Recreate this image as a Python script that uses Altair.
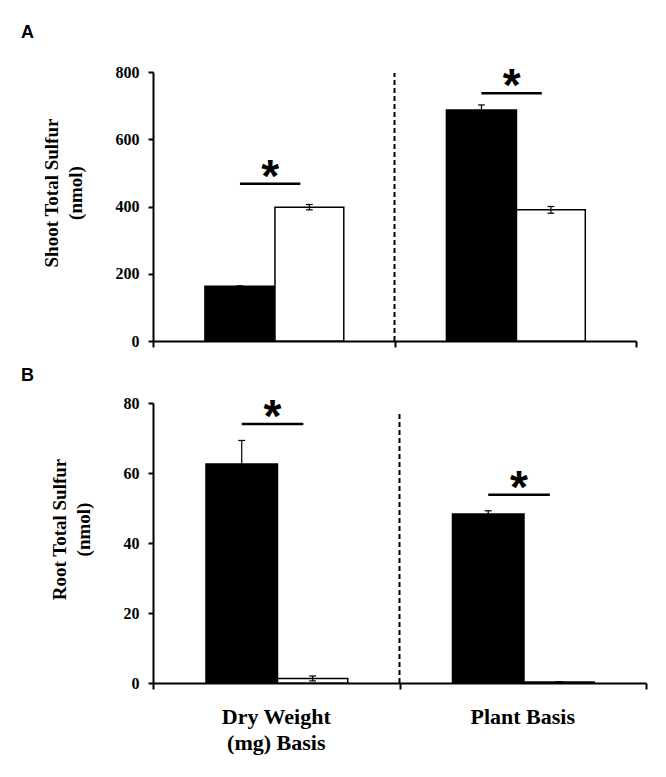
import altair as alt
import pandas as pd

# ---- data ----
bases = ["Dry Weight\n(mg) Basis", "Plant Basis"]
groups = ["Filled", "Open"]

shoot_mean = [163, 398, 687, 390]
shoot_err = [1, 8, 15, 10]
root_mean = [62.6, 1.3, 48.3, 0.3]
root_err = [6.7, 0.7, 0.9, 0.1]

shoot_sig = [468, 737]
root_sig = [74, 53.8]
shoot_divider_top = 797
root_divider_top = 77

shoot_ticks = [0, 200, 400, 600, 800]
root_ticks = [0, 20, 40, 60, 80]

SERIF = "Liberation Serif"
SANS = "Liberation Sans"

# layout of bars within each basis band (in band units)
BAR_EDGES = [(0.215, 0.505), (0.505, 0.79)]
SIG_SPAN = (0.36, 0.61)
CAP = 0.014


def build_frames(means, errs, sig):
    rows = []
    k = 0
    for g, b in enumerate(bases):
        for t, grp in enumerate(groups):
            lo, hi = BAR_EDGES[t]
            m = means[k]
            e = errs[k]
            rows.append(dict(basis=b, group=grp, x0=g + lo, x1=g + hi,
                             cx=g + (lo + hi) / 2, mean=m, zero=0,
                             low=m - e, high=m + e))
            k += 1
    bars = pd.DataFrame(rows)
    bars["c0"] = bars["cx"] - CAP
    bars["c1"] = bars["cx"] + CAP
    sigdf = pd.DataFrame(dict(basis=bases, s0=[g + SIG_SPAN[0] for g in range(2)],
                              s1=[g + SIG_SPAN[1] for g in range(2)],
                              sc=[g + (SIG_SPAN[0] + SIG_SPAN[1]) / 2 for g in range(2)],
                              y=sig))
    cats = pd.DataFrame(dict(basis=bases, cx=[g + 0.5 for g in range(2)]))
    return bars, sigdf, cats


def panel(means, errs, sig, divider_top, ticks, title, letter, width, height,
          letter_y, show_cats):
    bars, sigdf, cats = build_frames(means, errs, sig)
    ymax = ticks[-1]
    xscale = alt.Scale(domain=[0, 2], nice=False, zero=False)
    xaxis = alt.Axis(values=[0, 1, 2], labels=False, title=None, tickSize=6,
                     domainWidth=2, tickWidth=2)
    yscale = alt.Scale(domain=[0, ymax], nice=False)
    yaxis = alt.Axis(values=ticks, title=title, titleFont=SERIF,
                     titleFontWeight="bold", titleFontSize=19,
                     titleLineHeight=24, titlePadding=30,
                     titleY=height / 2 - 14, labelPadding=9, tickSize=5,
                     format="d")

    base = alt.Chart(bars)
    bar = base.mark_rect(stroke="black", strokeWidth=1.5).encode(
        x=alt.X("x0:Q", scale=xscale, axis=xaxis),
        x2="x1:Q",
        y=alt.Y("mean:Q", scale=yscale, axis=yaxis),
        y2="zero:Q",
        fill=alt.Fill("group:N", scale=alt.Scale(domain=groups, range=["black", "white"]),
                      legend=None),
    )
    err = base.mark_rule(color="black", strokeWidth=1.2).encode(
        x="cx:Q", y="low:Q", y2="high:Q")
    cap_hi = base.mark_rule(color="black", strokeWidth=1.2).encode(
        x="c0:Q", x2="c1:Q", y="high:Q")
    cap_lo = base.mark_rule(color="black", strokeWidth=1.2).encode(
        x="c0:Q", x2="c1:Q", y="low:Q")

    divider = alt.Chart(pd.DataFrame(dict(x=[1], y0=[0], y1=[divider_top]))).mark_rule(
        color="black", strokeWidth=2, strokeDash=[5, 3]).encode(
        x="x:Q", y="y0:Q", y2="y1:Q")

    sig_chart = alt.Chart(sigdf)
    sig_line = sig_chart.mark_rule(color="black", strokeWidth=2.5).encode(
        x="s0:Q", x2="s1:Q", y="y:Q")
    star = sig_chart.mark_text(text="*", font=SANS, fontWeight="bold", fontSize=46,
                               dy=8, baseline="alphabetic", color="black").encode(
        x="sc:Q", y="y:Q")

    letter_mark = alt.Chart(pd.DataFrame(dict(t=[letter]))).mark_text(
        font=SANS, fontWeight="bold", fontSize=18, align="left",
        baseline="alphabetic", color="black").encode(
        x=alt.value(-132), y=alt.value(letter_y), text="t:N")

    layers = [bar, err, cap_hi, cap_lo, divider, sig_line, star, letter_mark]
    if show_cats:
        cat_mark = alt.Chart(cats).mark_text(
            font=SERIF, fontWeight="bold", fontSize=22, lineBreak="\n",
            lineHeight=26, baseline="alphabetic", align="center", color="black").encode(
            x="cx:Q", y=alt.value(height + 41), text="basis:N")
        layers.append(cat_mark)

    return alt.layer(*layers).properties(width=width, height=height)


panel_a = panel(shoot_mean, shoot_err, shoot_sig, shoot_divider_top, shoot_ticks,
                ["Shoot Total Sulfur", "(nmol)"], "A", 483, 269, -34, False)
panel_b = panel(root_mean, root_err, root_sig, root_divider_top, root_ticks,
                ["Root Total Sulfur", "(nmol)"], "B", 493, 280, -22, True)

chart = alt.vconcat(panel_a, panel_b, spacing=62).properties(
    bounds="flush",
    padding={"left": 12, "top": 15, "right": 5, "bottom": 5},
    background="white",
).configure_view(stroke="transparent").configure_axis(
    grid=False, domainColor="black", domainWidth=2, tickColor="black", tickWidth=2,
    labelFont=SERIF, labelFontWeight="bold", labelFontSize=16, labelColor="black",
    titleColor="black",
)

chart.save("out.html", embed_options={"renderer": "svg", "actions": False})
